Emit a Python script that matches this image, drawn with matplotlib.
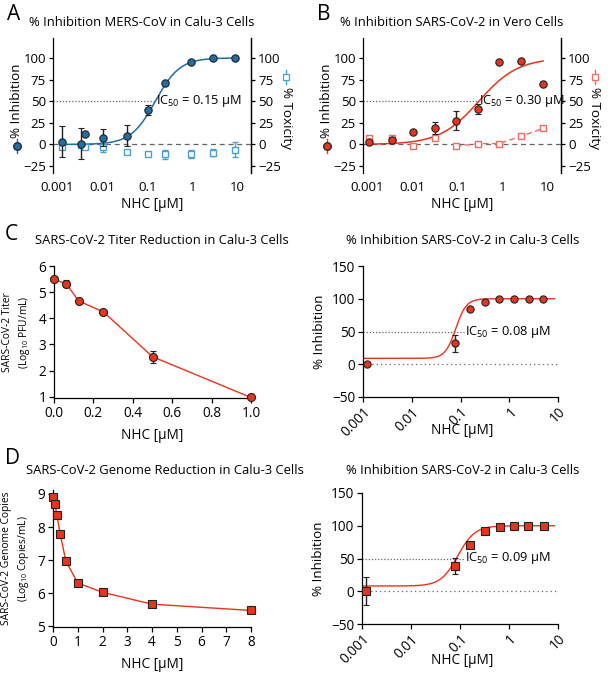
import numpy as np
import matplotlib
matplotlib.use("Agg")
import matplotlib.pyplot as plt

FONT = "Open Sans"
plt.rcParams["font.family"] = [FONT, "DejaVu Sans"]
plt.rcParams["mathtext.fontset"] = "custom"
plt.rcParams["mathtext.rm"] = FONT
plt.rcParams["mathtext.it"] = FONT
plt.rcParams["axes.linewidth"] = 0.9

W, H = 615, 680
BLUE = "#1f6ea6"
BLUE_LT = "#4b9fd1"
RED = "#e8341c"
RED_LT = "#f06a60"
GREY = "#666666"
TITLE_FS = 9.4

# ---- panel A: MERS-CoV, Calu-3
a_x = [0.0013, 0.0034, 0.0041, 0.0101, 0.035, 0.104, 0.25, 0.94, 2.8, 8.7]
a_inh = [3, 1, 12, 8, 10, 40, 71.5, 95, 99.5, 100]
a_inh_err = [18, 18, 0, 10, 12, 6, 0, 0, 0, 0]
a_tox = [-3, -1, -3, -3, -9, -11.5, -11.5, -11, -9.5, -6]
a_tox_err = [0, 0, 0, 6, 0, 0, 5, 5, 4, 9]
a_fit = dict(bottom=0, top=100, ic50=0.15, hill=1.6)

# ---- panel B: SARS-CoV-2, Vero
b_x = [0.0011, 0.0035, 0.0105, 0.031, 0.093, 0.28, 0.85, 2.6, 8.0]
b_inh = [3, 5, 14, 19, 27.5, 41, 95, 96, 70]
b_inh_err = [0, 0, 0, 7.5, 11, 6, 0, 0, 0]
b_tox = [7.5, 7.5, -1.5, 7, -2.3, 1, 1, 9.5, 18.5]
b_fit = dict(bottom=0, top=100, ic50=0.30, hill=1.0)

# ---- panel C: titer reduction, Calu-3
c_x = [0, 0.0625, 0.125, 0.25, 0.5, 1.0]
c_titer = [5.49, 5.32, 4.66, 4.25, 2.53, 0.97]
c_err = [0, 0.14, 0, 0, 0.23, 0]
c2_x = [0.0012, 0.078, 0.156, 0.3125, 0.625, 1.25, 2.5, 5.0]
c2_inh = [0, 32, 85, 94.5, 100, 100, 100, 100]
c2_err = [0, 13, 0, 0, 0, 0, 0, 0]
c2_fit = dict(bottom=9, top=100, ic50=0.08, hill=4.0)

# ---- panel D: genome reduction, Calu-3
d_x = [0, 0.08, 0.16, 0.29, 0.52, 1.0, 2.0, 4.0, 8.0]
d_copies = [8.9, 8.69, 8.36, 7.79, 6.97, 6.31, 6.03, 5.67, 5.48]
d2_x = [0.00123, 0.08, 0.158, 0.32, 0.65, 1.27, 2.5, 5.1]
d2_inh = [0, 39, 70, 92, 98.5, 99.5, 99.5, 99.5]
d2_err = [21, 12, 0, 0, 0, 0, 0, 0]
d2_fit = dict(bottom=8, top=100, ic50=0.09, hill=2.5)


def logistic(x, bottom, top, ic50, hill):
    return bottom + (top - bottom) / (1 + (ic50 / x) ** hill)


fig = plt.figure(figsize=(W / 100, H / 100), dpi=100)


def ax_px(left, top, right, bottom):
    return fig.add_axes([left / W, 1 - bottom / H, (right - left) / W, (bottom - top) / H])


def fig_text(x, y, s, **kw):
    fig.text(x / W, 1 - y / H, s, **kw)


def dual_panel(ax, xs, inh, inh_err, tox, tox_err, fit, col, col_lt, ic_text, ic_x, tox_line):
    ax.set_xscale("log")
    ax.set_xlim(0.0008, 20)
    ax.set_ylim(-33, 123)
    for s in ["top", "bottom"]:
        ax.spines[s].set_visible(False)
    ax.tick_params(axis="x", length=0, labelsize=9.5, pad=6)
    ax.tick_params(axis="y", length=3, width=0.9, labelsize=9.5, pad=2)
    ax.set_xticks([0.001, 0.01, 0.1, 1, 10])
    ax.set_xticklabels(["0.001", "0.01", "0.1", "1", "10"])
    ax.minorticks_off()
    ax.set_yticks([-25, 0, 25, 50, 75, 100])
    ax.axhline(0, color=GREY, lw=0.9, ls=(0, (4, 3)), zorder=1)
    ax.plot([0.0008, ic_x], [50, 50], color=GREY, lw=0.9, ls=(0, (1, 1.5)), zorder=1)
    xx = np.logspace(np.log10(xs[0]), np.log10(xs[-1]), 300)
    ax.plot(xx, logistic(xx, **fit), color=col, lw=1.1, zorder=2)
    if tox_line:
        ax.plot(xs[4:], tox[4:], color=col_lt, lw=1.0, ls=(0, (4, 2.5)), zorder=2)
    ax.errorbar(xs, tox, yerr=tox_err, fmt="s", ms=4.5, mfc="white", mec=col_lt, mew=1.0,
                ecolor=col_lt, elinewidth=1.0, capsize=2.3, zorder=3)
    ax.errorbar(xs, inh, yerr=inh_err, fmt="o", ms=5.3, mfc=col, mec="#222222", mew=0.8,
                ecolor="#222222", elinewidth=1.0, capsize=2.3, zorder=4)
    ax.text(ic_x * 1.12, 50, ic_text, fontsize=9.3, va="center", ha="left")
    ax.set_xlabel("NHC [µM]", fontsize=9.8, labelpad=2)
    r = ax.twinx()
    r.set_ylim(-33, 123)
    r.set_yticks([-25, 0, 25, 50, 75, 100])
    r.tick_params(axis="y", length=3, width=0.9, labelsize=9.5, pad=2)
    for s in ["top", "bottom", "left"]:
        r.spines[s].set_visible(False)
    return r


def legend_label(x, text, marker, col, mfc, rot, ymark, ytext):
    # rotated axis label with its own little line+marker key
    fig_text(x, ytext, text, rotation=rot, fontsize=9.7, ha="center", va="center")
    fig.add_artist(plt.Line2D([x / W, x / W], [1 - (ymark - 7) / H, 1 - (ymark + 7) / H],
                              color=col, lw=1.0))
    fig.add_artist(plt.Line2D([x / W], [1 - ymark / H], marker=marker,
                              ms=5.5 if marker == "o" else 4.5,
                              mfc=mfc, mec="#222222" if mfc != "white" else col, mew=0.9, color=col))


# ---- A
axA = ax_px(53, 38, 251, 173)
dual_panel(axA, a_x, a_inh, a_inh_err, a_tox, a_tox_err, a_fit, BLUE, BLUE_LT,
           "IC$_{50}$ = 0.15 µM", 0.14, False)
fig_text(142, 22, "% Inhibition MERS-CoV in Calu-3 Cells", fontsize=TITLE_FS, ha="center", va="center")
fig_text(7, 14, "A", fontsize=15, ha="left", va="center")
legend_label(17, "% Inhibition", "o", BLUE, BLUE, 90, 146, 101)
legend_label(286, "% Toxicity", "s", BLUE_LT, "white", 270, 77, 118)

# ---- B
axB = ax_px(363, 38, 561, 173)
dual_panel(axB, b_x, b_inh, b_inh_err, b_tox, [0] * len(b_tox), b_fit, RED, RED_LT,
           "IC$_{50}$ = 0.30 µM", 0.27, True)
fig_text(452, 22, "% Inhibition SARS-CoV-2 in Vero Cells", fontsize=TITLE_FS, ha="center", va="center")
fig_text(317, 14, "B", fontsize=15, ha="left", va="center")
legend_label(327, "% Inhibition", "o", RED, RED, 90, 146, 101)
legend_label(595, "% Toxicity", "s", RED_LT, "white", 270, 77, 118)


def lin_panel(ax):
    for s in ["top", "right"]:
        ax.spines[s].set_visible(False)
    ax.tick_params(length=3.5, width=0.9, labelsize=9.8, pad=2)


# ---- C left
axC = ax_px(54, 266, 251, 398)
lin_panel(axC)
axC.set_xlim(0, 1.0)
axC.set_ylim(0.95, 6)
axC.set_xticks([0, 0.2, 0.4, 0.6, 0.8, 1.0])
axC.set_xticklabels(["0.0", "0.2", "0.4", "0.6", "0.8", "1.0"])
axC.set_yticks([1, 2, 3, 4, 5, 6])
axC.errorbar(c_x, c_titer, yerr=c_err, fmt="-o", color=RED, lw=1.0, ms=5.8, mfc=RED,
             mec="#222222", mew=0.8, ecolor="#222222", elinewidth=1.0, capsize=2.3, clip_on=False, zorder=3)
axC.set_xlabel("NHC [µM]", fontsize=9.8, labelpad=5)
axC.set_ylabel("SARS-CoV-2 Titer\n(Log$_{10}$ PFU/mL)", fontsize=7.4, labelpad=5, linespacing=1.4)
fig_text(162, 240, "SARS-CoV-2 Titer Reduction in Calu-3 Cells", fontsize=TITLE_FS, ha="center", va="center")
fig_text(5, 234, "C", fontsize=15, ha="left", va="center")


def ic_panel(ax, xs, ys, err, fit, marker, ms, ic_text, ic_x, xlab_y):
    lin_panel(ax)
    ax.set_xscale("log")
    ax.set_xlim(0.001, 10)
    ax.set_ylim(-50, 150)
    ax.set_xticks([0.001, 0.01, 0.1, 1, 10])
    ax.set_xticklabels(["0.001", "0.01", "0.1", "1", "10"], rotation=45, ha="right",
                       rotation_mode="anchor")
    ax.minorticks_off()
    ax.set_yticks([-50, 0, 50, 100, 150])
    ax.plot([0.001, 10], [0, 0], color=GREY, lw=0.9, ls=(0, (1, 2.5)), zorder=1)
    ax.plot([0.001, ic_x], [50, 50], color=GREY, lw=0.9, ls=(0, (1, 1.5)), zorder=1)
    xx = np.logspace(-3, np.log10(8.5), 300)
    ax.plot(xx, logistic(xx, **fit), color=RED, lw=1.0, zorder=2)
    ax.errorbar(xs, ys, yerr=err, fmt=marker, ms=ms, mfc=RED, mec="#222222", mew=0.8,
                ecolor="#222222", elinewidth=1.0, capsize=2.3, zorder=3, clip_on=False)
    ax.text(ic_x * 1.05, 50, ic_text, fontsize=9.3, va="center", ha="left")
    ax.set_ylabel("% Inhibition", fontsize=9.7, labelpad=4)
    fig_text(462, xlab_y, "NHC [µM]", fontsize=9.8, ha="center", va="center")


# ---- C right
axC2 = ax_px(363, 266, 558, 397)
ic_panel(axC2, c2_x, c2_inh, c2_err, c2_fit, "o", 5.2, "IC$_{50}$ = 0.08 µM", 0.12, 431)
fig_text(463, 240, "% Inhibition SARS-CoV-2 in Calu-3 Cells", fontsize=TITLE_FS, ha="center", va="center")

# ---- D left
axD = ax_px(53, 490, 251, 627)
lin_panel(axD)
axD.set_xlim(0, 8)
axD.set_ylim(4.98, 9.12)
axD.set_xticks(range(0, 9))
axD.set_yticks([5, 6, 7, 8, 9])
axD.plot(d_x, d_copies, "-s", color=RED, lw=1.0, ms=5.6, mfc=RED, mec="#222222", mew=0.8,
         clip_on=False, zorder=3)
axD.set_xlabel("NHC [µM]", fontsize=9.8, labelpad=5)
axD.set_ylabel("SARS-CoV-2 Genome Copies\n(Log$_{10}$ Copies/mL)", fontsize=7.4, labelpad=5,
               linespacing=1.4)
fig_text(165, 470, "SARS-CoV-2 Genome Reduction in Calu-3 Cells", fontsize=TITLE_FS, ha="center", va="center")
fig_text(5, 458, "D", fontsize=15, ha="left", va="center")

# ---- D right
axD2 = ax_px(362, 493, 558, 624)
ic_panel(axD2, d2_x, d2_inh, d2_err, d2_fit, "s", 5.6, "IC$_{50}$ = 0.09 µM", 0.12, 661)
fig_text(463, 470, "% Inhibition SARS-CoV-2 in Calu-3 Cells", fontsize=TITLE_FS, ha="center", va="center")

fig.savefig("out.png", dpi=100)
